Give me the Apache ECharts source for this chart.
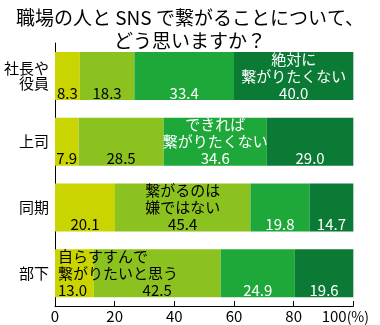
<!DOCTYPE html>
<html><head><meta charset="utf-8">
<script src="https://cdn.jsdelivr.net/npm/echarts@6/dist/echarts.min.js"></script>
<style>html,body{margin:0;padding:0;background:#fff}#c{width:380px;height:325px}</style>
</head><body><div id="c"></div>
<script>
const titleText = '職場の人と SNS で繋がることについて、\nどう思いますか？';
const categories = ['社長や\n役員', '上司', '同期', '部下'];
const answerNames = ['自らすすんで\n繋がりたいと思う', '繋がるのは\n嫌ではない', 'できれば\n繋がりたくない', '絶対に\n繋がりたくない'];
const noteRow = [3, 2, 1, 0];
const eager = [8.3, 7.9, 20.1, 13.0];
const notAverse = [18.3, 28.5, 45.4, 42.5];
const ratherNot = [33.4, 34.6, 19.8, 24.9];
const never = [40.0, 29.0, 14.7, 19.6];
const xTicks = [0, 20, 40, 60, 80, 100];

const seriesData = [eager, notAverse, ratherNot, never];
const colors = ['#c9d400', '#8cc21f', '#1fa83a', '#0b7a35'];
const labelColors = ['#000', '#000', '#fff', '#fff'];
const font = '"Noto Sans CJK JP", "Noto Sans", sans-serif';

const series = seriesData.map((arr, si) => ({
  type: 'bar',
  stack: 'all',
  name: answerNames[si],
  barWidth: 48,
  data: arr.map((v, ci) => {
    const hasNote = noteRow[si] === ci;
    const lbl = {
      show: true,
      color: labelColors[si],
      fontSize: 15,
      lineHeight: 17,
      fontFamily: font,
      formatter: (hasNote ? answerNames[si] : '\n') + '\n' + v.toFixed(1)
    };
    if (hasNote && si === 0) {
      lbl.position = 'insideLeft';
      lbl.distance = 3;
      lbl.align = 'left';
    } else {
      lbl.position = 'inside';
      lbl.align = 'center';
    }
    return { value: v, label: lbl };
  }),
  itemStyle: { color: colors[si] }
}));

const chart = echarts.init(document.getElementById('c'), null, { renderer: 'canvas' });
chart.setOption({
  animation: false,
  backgroundColor: '#fff',
  title: {
    text: titleText,
    left: 'center',
    top: 1,
    textStyle: { fontSize: 19, lineHeight: 23, fontWeight: 'normal', color: '#000', fontFamily: font }
  },
  grid: { left: 55, right: 18, top: 43, bottom: 19, containLabel: false },
  xAxis: {
    type: 'value',
    min: xTicks[0],
    max: xTicks[xTicks.length - 1],
    interval: xTicks[1] - xTicks[0],
    axisLine: { show: true, lineStyle: { color: '#000', width: 1 } },
    axisTick: { show: true, inside: true, length: 5, lineStyle: { color: '#000' } },
    splitLine: { show: false },
    axisLabel: {
      color: '#000', fontSize: 15, fontFamily: font, margin: 3,
      formatter: v => v === 100 ? '{n|100}{p|(%)}{s|}' : String(v),
      rich: {
        n: { fontSize: 15, fontFamily: font, color: '#000' },
        p: { fontSize: 14, fontFamily: font, color: '#000' },
        s: { width: 16 }
      }
    }
  },
  yAxis: {
    type: 'category',
    inverse: true,
    data: categories,
    axisLine: { show: true, lineStyle: { color: '#000', width: 1 } },
    axisTick: { show: false },
    axisLabel: { color: '#000', fontSize: 15, lineHeight: 15, fontFamily: font, margin: 6, align: 'right' }
  },
  series: series
});
</script>
</body></html>
